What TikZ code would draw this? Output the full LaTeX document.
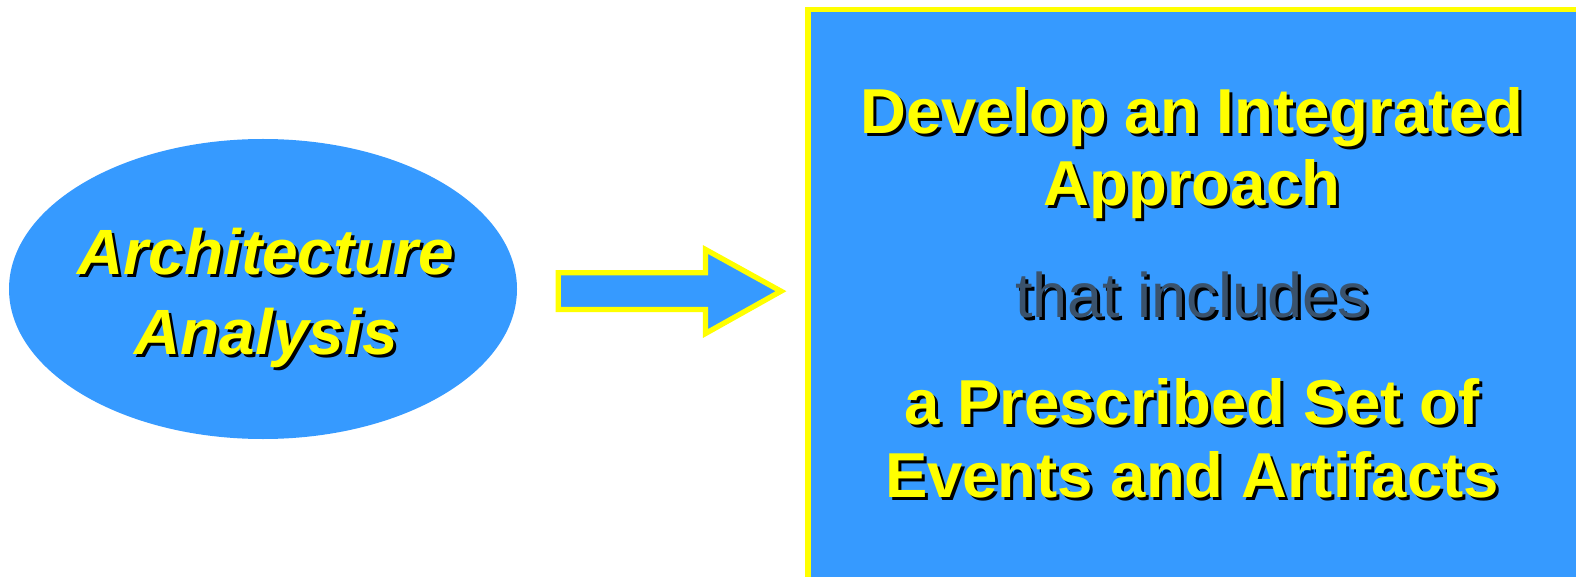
\documentclass[tikz,border=0pt]{standalone}
\usepackage{fontspec}
\setmainfont{Liberation Sans}
\definecolor{boxblue}{RGB}{54,154,255}
\definecolor{hiyellow}{RGB}{255,255,0}
\definecolor{slate}{RGB}{58,82,108}
\newcommand\shadowed[2]{\makebox[0pt][l]{\hspace{3pt}\raisebox{-3pt}{\color{black}#2}}{\color{#1}#2}}
\tikzset{
  bigbold/.style={anchor=base, inner sep=0pt, font=\fontsize{63.5}{75}\selectfont\bfseries},
  bigital/.style={anchor=base, inner sep=0pt, font=\fontsize{64}{76}\selectfont\bfseries\itshape},
  bigplain/.style={anchor=base, inner sep=0pt, font=\fontsize{63}{75}\selectfont},
  shapeblue/.style={fill=boxblue, draw=hiyellow},
}
\begin{document}
\begin{tikzpicture}[x=1pt,y=-1pt]
\useasboundingbox (0,0) rectangle (1576,577);
\fill[white] (0,0) rectangle (1576,577);
% ellipse
\fill[boxblue] (263,289) ellipse [x radius=254, y radius=150];
\node[bigital] (arch) at (266,274) {\shadowed{hiyellow}{Architecture}};
\node[bigital] (anal) at (266,354) {\shadowed{hiyellow}{Analysis}};
% block arrow
\draw[shapeblue, line width=5.3pt, miter limit=10] (558.3,272.7) -- (705.5,272.7) -- (705.5,249.5) -- (781,291.2) -- (705.5,333.5) -- (705.5,309.5) -- (558.3,309.5) -- cycle;
% box
\fill[boxblue] (808,9.5) rectangle (1600,600);
\draw[draw=hiyellow, line width=5.5pt] (808,600) -- (808,9.5) -- (1600,9.5);
\node[bigbold] (l1) at (1192,134) {\shadowed{hiyellow}{Develop an Integrated}};
\node[bigbold] (l2) at (1192,206) {\shadowed{hiyellow}{Approach}};
\node[bigplain] (l3) at (1192,317) {\shadowed{slate}{that includes}};
\node[bigbold] (l4) at (1192,424) {\shadowed{hiyellow}{a Prescribed Set of}};
\node[bigbold] (l5) at (1192,497) {\shadowed{hiyellow}{Events and Artifacts}};
\end{tikzpicture}
\end{document}
